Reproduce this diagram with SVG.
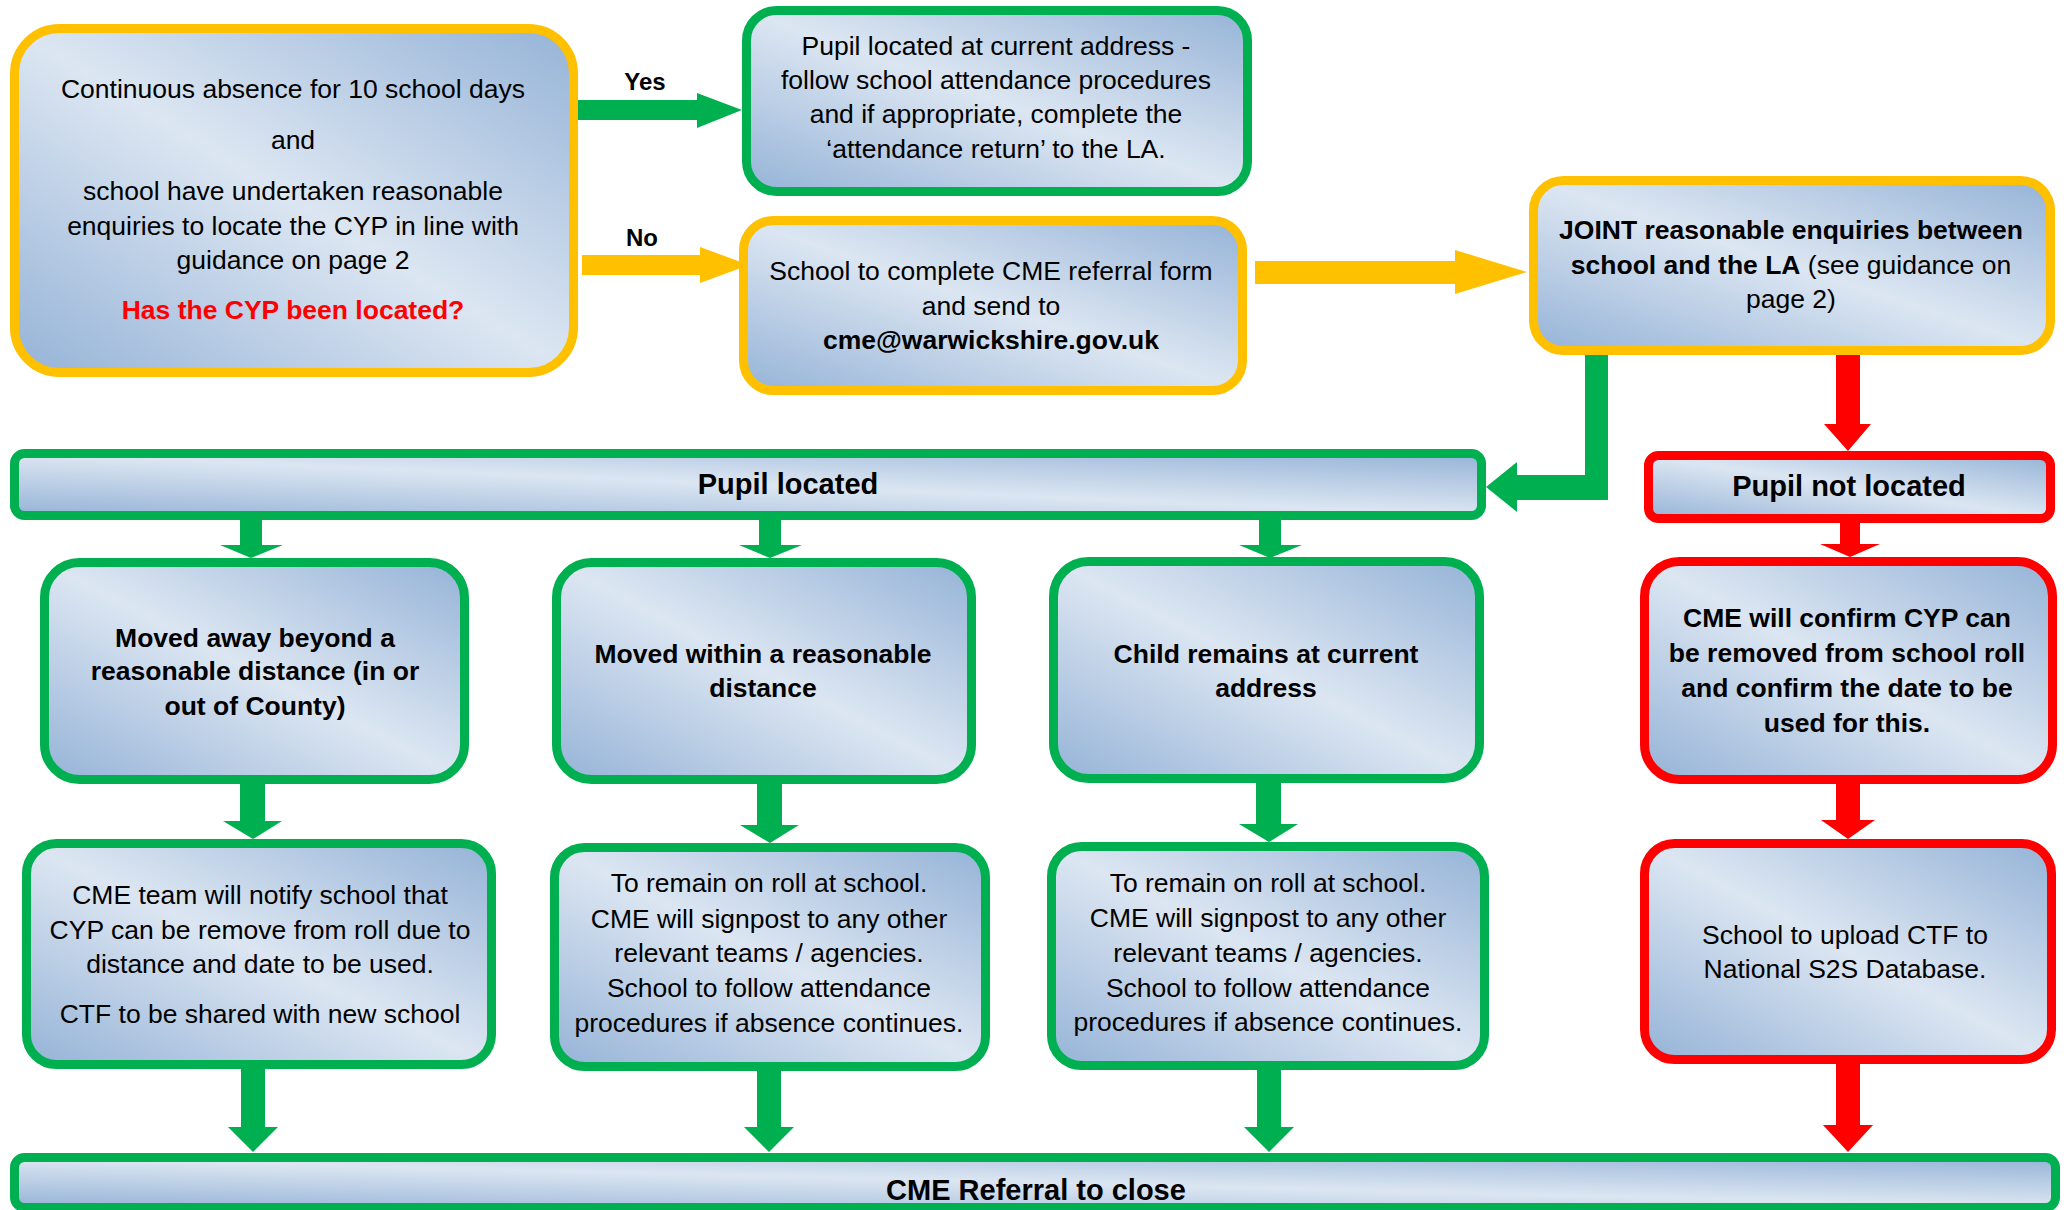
<svg xmlns="http://www.w3.org/2000/svg" width="2069" height="1210" viewBox="0 0 2069 1210">
<defs>
<linearGradient id="g" x1="1" y1="0" x2="0" y2="1">
<stop offset="0" stop-color="#95b3d7"/>
<stop offset="0.5" stop-color="#dce6f2"/>
<stop offset="1" stop-color="#95b3d7"/>
</linearGradient>
</defs>
<style>
.box{fill:url(#g);stroke-width:9}
.gr{stroke:#00b050}
.ye{stroke:#ffc000}
.rd{stroke:#ff0000}
text{font-family:"Liberation Sans",Arial,sans-serif;font-size:26.5px;fill:#000;text-anchor:middle}
.b{font-weight:bold}
.big{font-size:29px;font-weight:bold}
.lbl{font-size:24px;font-weight:bold}
.red{fill:#ff0000;font-weight:bold}
.ag{fill:#00b050}
.ay{fill:#ffc000}
.ar{fill:#ff0000}
</style>
<rect width="2069" height="1210" fill="#ffffff"/>
<g id="connectors">
<polygon class="ag" points="578,100 697,100 697,93 742,110 697,128 697,120 578,120"/>
<polygon class="ay" points="582,255 700,255 700,247 749,265 700,283 700,275 582,275"/>
<polygon class="ay" points="1255,261 1455,261 1455,250 1527,272 1455,294 1455,284 1255,284"/>
<polygon class="ag" points="1585,354 1608,354 1608,500 1517,500 1517,512 1486,487 1517,462 1517,475 1585,475"/>
<polygon class="ar" points="1836,354 1860,354 1860,424 1871,424 1848,451 1824,424 1836,424"/>
<polygon class="ag" points="240,518 262,518 262,545 283,545 251,558 220,545 240,545"/>
<polygon class="ag" points="759,518 781,518 781,545 802,545 770,558 739,545 759,545"/>
<polygon class="ag" points="1259,518 1281,518 1281,545 1302,545 1270,558 1239,545 1259,545"/>
<polygon class="ar" points="1840,522 1860,522 1860,544 1880,544 1850,557 1820,544 1840,544"/>
<polygon class="ag" points="240,782 265,782 265,821 282,821 253,839 223,821 240,821"/>
<polygon class="ag" points="757,782 782,782 782,825 799,825 770,843 740,825 757,825"/>
<polygon class="ag" points="1256,782 1281,782 1281,824 1298,824 1269,842 1239,824 1256,824"/>
<polygon class="ar" points="1836,782 1860,782 1860,820 1875,820 1848,839 1821,820 1836,820"/>
<polygon class="ag" points="241,1068 265,1068 265,1127 278,1127 253,1152 228,1127 241,1127"/>
<polygon class="ag" points="757,1070 781,1070 781,1127 794,1127 769,1152 744,1127 757,1127"/>
<polygon class="ag" points="1257,1069 1281,1069 1281,1127 1294,1127 1269,1152 1244,1127 1257,1127"/>
<polygon class="ar" points="1836,1063 1860,1063 1860,1125 1873,1125 1848,1152 1823,1125 1836,1125"/>
<text class="lbl" x="645" y="90">Yes</text>
<text class="lbl" x="642" y="246">No</text>
</g>
<g id="n1">
<rect class="box ye" x="14.5" y="28.5" width="559" height="344" rx="45"/>
<text x="293" y="98">Continuous absence for 10 school days</text>
<text x="293" y="149">and</text>
<text x="293" y="200">school have undertaken reasonable</text>
<text x="293" y="234.5">enquiries to locate the CYP in line with</text>
<text x="293" y="269">guidance on page 2</text>
<text class="red" x="293" y="319">Has the CYP been located?</text>
</g>
<g id="n2">
<rect class="box gr" x="746.5" y="10.5" width="501" height="181" rx="30"/>
<text x="996" y="54.5">Pupil located at current address -</text>
<text x="996" y="89">follow school attendance procedures</text>
<text x="996" y="123">and if appropriate, complete the</text>
<text x="996" y="157.5">‘attendance return’ to the LA.</text>
</g>
<g id="n3">
<rect class="box ye" x="743.5" y="220.5" width="499" height="170" rx="30"/>
<text x="991" y="280">School to complete CME referral form</text>
<text x="991" y="314.5">and send to</text>
<text class="b" x="991" y="349">cme@warwickshire.gov.uk</text>
</g>
<g id="n4">
<rect class="box ye" x="1533.5" y="180.5" width="517" height="170" rx="30"/>
<text class="b" x="1791" y="239">JOINT reasonable enquiries between</text>
<text x="1791" y="273.5"><tspan class="b">school and the LA</tspan> (see guidance on</text>
<text x="1791" y="308">page 2)</text>
</g>
<g id="pupil-located">
<rect class="box gr" x="14.5" y="453.5" width="1467" height="62" rx="10"/>
<text class="big" x="788" y="494">Pupil located</text>
</g>
<g id="pupil-not-located">
<rect class="box rd" x="1648.5" y="455.5" width="402" height="63" rx="10"/>
<text class="big" x="1849" y="496">Pupil not located</text>
</g>
<g id="moved-away">
<rect class="box gr" x="44.5" y="562.5" width="420" height="217" rx="35"/>
<text class="b" x="255" y="646.5">Moved away beyond a</text>
<text class="b" x="255" y="680">reasonable distance (in or</text>
<text class="b" x="255" y="715">out of County)</text>
</g>
<g id="moved-within">
<rect class="box gr" x="556.5" y="562.5" width="415" height="217" rx="35"/>
<text class="b" x="763" y="662.5">Moved within a reasonable</text>
<text class="b" x="763" y="697">distance</text>
</g>
<g id="child-remains">
<rect class="box gr" x="1053.5" y="561.5" width="426" height="217" rx="35"/>
<text class="b" x="1266" y="662.5">Child remains at current</text>
<text class="b" x="1266" y="697">address</text>
</g>
<g id="cme-confirm">
<rect class="box rd" x="1644.5" y="561.5" width="408" height="218" rx="35"/>
<text class="b" x="1847" y="627">CME will confirm CYP can</text>
<text class="b" x="1847" y="661.5">be removed from school roll</text>
<text class="b" x="1847" y="697">and confirm the date to be</text>
<text class="b" x="1847" y="731.5">used for this.</text>
</g>
<g id="notify">
<rect class="box gr" x="26.5" y="843.5" width="465" height="221" rx="30"/>
<text x="260" y="904">CME team will notify school that</text>
<text x="260" y="938.5">CYP can be remove from roll due to</text>
<text x="260" y="973">distance and date to be used.</text>
<text x="260" y="1022.5">CTF to be shared with new school</text>
</g>
<g id="remain-1">
<rect class="box gr" x="554.5" y="847.5" width="431" height="219" rx="30"/>
<text x="769" y="892">To remain on roll at school.</text>
<text x="769" y="927.5">CME will signpost to any other</text>
<text x="769" y="962">relevant teams / agencies.</text>
<text x="769" y="997">School to follow attendance</text>
<text x="769" y="1032">procedures if absence continues.</text>
</g>
<g id="remain-2">
<rect class="box gr" x="1051.5" y="846.5" width="433" height="219" rx="30"/>
<text x="1268" y="892">To remain on roll at school.</text>
<text x="1268" y="927">CME will signpost to any other</text>
<text x="1268" y="962">relevant teams / agencies.</text>
<text x="1268" y="996.5">School to follow attendance</text>
<text x="1268" y="1031">procedures if absence continues.</text>
</g>
<g id="upload">
<rect class="box rd" x="1644.5" y="843.5" width="407" height="216" rx="30"/>
<text x="1845" y="943.5">School to upload CTF to</text>
<text x="1845" y="978">National S2S Database.</text>
</g>
<g id="close">
<rect class="box gr" x="14.5" y="1157.5" width="2041" height="50" rx="10"/>
<text class="big" x="1036" y="1199.5">CME Referral to close</text>
</g>
</svg>
